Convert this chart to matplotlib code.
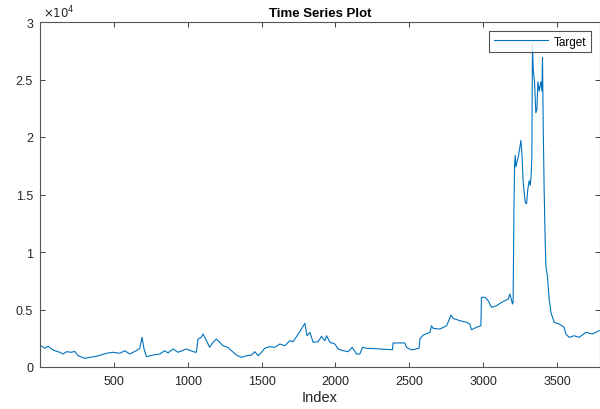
import matplotlib
matplotlib.use("Agg")
import matplotlib.pyplot as plt
from matplotlib.ticker import FuncFormatter

plt.rcParams['font.family'] = ['Liberation Sans', 'DejaVu Sans']

# index / value pairs
idx = [1, 7, 34, 56, 79, 101, 135, 157, 180, 214, 236, 259, 304, 338, 383,
       451, 495, 541, 574, 608, 653, 676, 691, 705, 721, 766, 811, 845, 867,
       901, 935, 992, 1037, 1059, 1070, 1093, 1104, 1127, 1149, 1172, 1194,
       1217, 1239, 1273, 1296, 1330, 1364, 1398, 1432, 1455, 1477, 1500, 1522,
       1556, 1590, 1624, 1658, 1691, 1714, 1748, 1770, 1793, 1808, 1827, 1849,
       1883, 1906, 1928, 1940, 1962, 1996, 2018, 2052, 2086, 2113, 2143, 2165,
       2183, 2210, 2300, 2386, 2390, 2469, 2481, 2515, 2566, 2571, 2594, 2639,
       2650, 2661, 2706, 2752, 2767, 2781, 2796, 2841, 2887, 2909, 2920, 2954,
       2984, 2988, 3011, 3033, 3056, 3090, 3124, 3169, 3180, 3198, 3202, 3208,
       3212, 3216, 3221, 3239, 3255, 3262, 3270, 3284, 3293, 3302, 3311, 3318,
       3324, 3329, 3333, 3338, 3347, 3356, 3363, 3370, 3378, 3390, 3397, 3401,
       3406, 3412, 3419, 3424, 3435, 3446, 3458, 3480, 3514, 3547, 3559, 3581,
       3615, 3649, 3694, 3739, 3761, 3784]
target = [1800, 1850, 1630, 1800, 1570, 1420, 1280, 1130, 1330, 1280, 1360, 980,
          750, 840, 930, 1190, 1280, 1190, 1420, 1130, 1420, 1630, 2580, 1570,
          900, 1040, 1130, 1420, 1220, 1570, 1280, 1570, 1330, 1280, 2430, 2580,
          2870, 2290, 1710, 2150, 2430, 2150, 1850, 1700, 1420, 1040, 840, 980,
          1040, 1330, 980, 1280, 1630, 1770, 1710, 2000, 1850, 2290, 2200, 2870,
          3300, 3800, 2720, 3010, 2150, 2200, 2670, 2290, 2720, 2150, 2000, 1570,
          1420, 1330, 1710, 1130, 1130, 1710, 1630, 1570, 1500, 2090, 2090, 1710,
          1480, 1630, 2430, 2780, 3010, 3590, 3360, 3300, 3590, 4030, 4520, 4230,
          4030, 3880, 3740, 3240, 3450, 3590, 6060, 6060, 5770, 5190, 5330, 5620,
          5910, 6350, 5480, 5620, 14000, 17600, 18400, 17400, 18400, 19700, 18500,
          16100, 14300, 14200, 15500, 16200, 15800, 16600, 18400, 28000, 25900,
          24800, 22100, 22400, 24800, 24000, 24800, 24000, 26900, 20700, 15500,
          11000, 8800, 7800, 5910, 4750, 3880, 3740, 3450, 2870, 2580, 2720, 2580,
          3010, 2870, 3010, 3160]

xticks = [500, 1000, 1500, 2000, 2500, 3000, 3500]
yticks = [0, 5000, 10000, 15000, 20000, 25000, 30000]

fig = plt.figure(figsize=(6, 4.1), dpi=100)
ax = fig.add_axes([40/600, 42/410, 560/600, 345/410])

ax.plot(idx, target, color='#0072BD', lw=0.8, label='Target')

ax.set_xlim(1, 3790)
ax.set_ylim(0, 30000)
ax.set_xticks(xticks)
ax.set_yticks(yticks)
ax.yaxis.set_major_formatter(FuncFormatter(lambda v, p: '%g' % (v / 1e4)))
ax.tick_params(direction='in', length=3.5, width=0.6, colors='#262626',
               labelsize=9, top=True, right=True)
ax.tick_params(axis='x', pad=6)
ax.tick_params(axis='y', pad=5)
for s in ax.spines.values():
    s.set_color('#555555')
    s.set_linewidth(0.8)

ax.text(0.005, 1.004, r'$\times10^{4}$', transform=ax.transAxes,
        ha='left', va='bottom', fontsize=8.5, color='#262626')
ax.set_xlabel('Index', fontsize=10.5, color='#262626', labelpad=2)
ax.set_title('Time Series Plot', fontsize=9.5, fontweight='bold', pad=4)

leg = ax.legend(loc='upper right', fontsize=8.5, frameon=True, fancybox=False,
                borderaxespad=0.75, handlelength=4.6, borderpad=0.4,
                handletextpad=0.5)
leg.get_frame().set_edgecolor('#262626')
leg.get_frame().set_linewidth(0.8)

fig.savefig('out.png', dpi=100)
